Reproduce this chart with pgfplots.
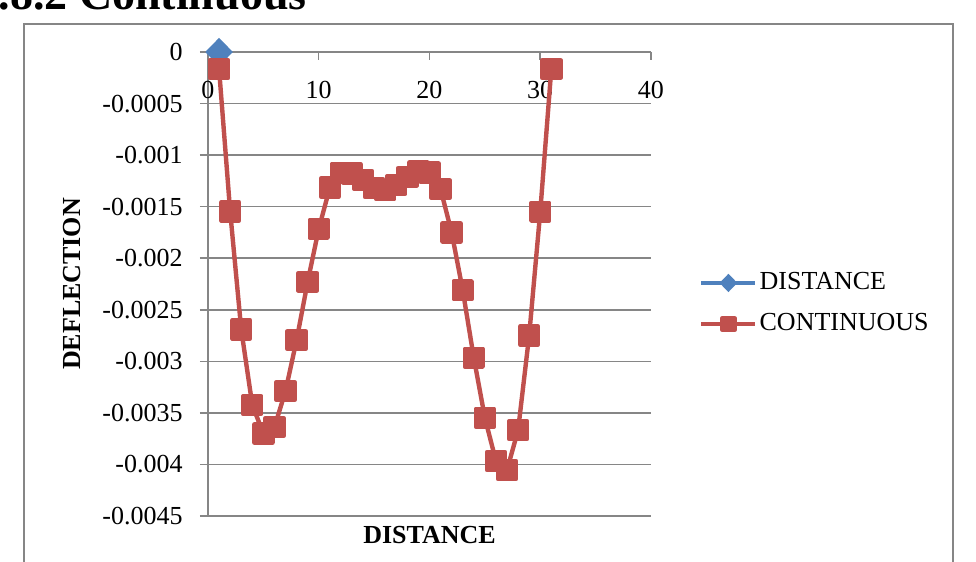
\documentclass[border=0pt]{standalone}
\usepackage{pgfplots}
\pgfplotsset{compat=1.18}
\usepackage{fontspec}
\setmainfont{Liberation Serif}
\definecolor{xlred}{HTML}{C0504D}
\definecolor{xlblue}{HTML}{4F81BD}
\definecolor{xlgray}{HTML}{868686}
\begin{document}
\fontsize{13}{15}\selectfont
\begin{tikzpicture}
\useasboundingbox (0,0) rectangle (488pt,281pt);
\clip (0,0) rectangle (488pt,281pt);
% cropped section heading above the chart
\node[anchor=base east, font=\fontsize{23}{26}\selectfont\bfseries, inner sep=0pt] at (153.5pt,276pt) {3.8.2 Continuous};
% chart area border
\draw[xlgray, line width=1pt] (12pt,269pt) rectangle (476.5pt,-10pt);
\begin{axis}[
  at={(104pt,23pt)}, anchor=south west,
  scale only axis, width=221.5pt, height=232pt,
  xmin=0, xmax=40, ymin=-0.0045, ymax=0,
  axis x line*=top, axis y line*=left,
  axis line style={xlgray, line width=0.75pt, -},
  scaled y ticks=false, scaled x ticks=false,
  xtick={0,10,20,30,40}, xticklabels={0,10,20,30,40},
  ytick={-0.0045,-0.004,-0.0035,-0.003,-0.0025,-0.002,-0.0015,-0.001,-0.0005,0},
  yticklabels={-0.0045,-0.004,-0.0035,-0.003,-0.0025,-0.002,-0.0015,-0.001,-0.0005,0},
  xtick align=inside, ytick align=outside, major tick length=4pt,
  tick style={xlgray, line width=0.75pt},
  ymajorgrids, grid style={xlgray, line width=0.75pt},
  xticklabel style={anchor=center, yshift=-19pt, inner sep=0pt},
  yticklabel style={anchor=east, xshift=-8.5pt, inner sep=0pt},
  xlabel={DISTANCE}, ylabel={DEFLECTION},
  xlabel style={at={(axis description cs:0.5,-0.041)}, anchor=center, font=\bfseries},
  ylabel style={at={(axis description cs:-0.307,0.5)}, anchor=center, font=\bfseries},
  legend style={at={(1.108,0.458)}, anchor=west, draw=none, fill=none, inner sep=0pt,
    row sep=8pt, cells={anchor=west}, nodes={inner sep=1pt}},
  legend image code/.code={\draw[mark repeat=2,mark phase=2,mark size=3pt] plot coordinates {(0pt,0pt)(13.5pt,0pt)(27pt,0pt)};},
  clip=false,
]
\addplot[xlblue, line width=2.2pt, mark=diamond*, mark size=5.5pt, mark options={xscale=1.3}] coordinates {(1,0)};
\addplot[xlred, line width=2.2pt, line join=round, mark=square*, mark size=4.5pt] coordinates {
(1,-0.000165)(2,-0.001545)(3,-0.00269)(4,-0.003424)(5,-0.0037)(6,-0.003637)
(7,-0.003288)(8,-0.002794)(9,-0.002229)(10,-0.001715)(11,-0.001315)(12,-0.001172)
(13,-0.00118)(14,-0.00124)(15,-0.00132)(16,-0.00134)(17,-0.00129)(18,-0.00121)
(19,-0.00116)(20,-0.00117)(21,-0.00133)(22,-0.00175)(23,-0.00231)(24,-0.002965)
(25,-0.003547)(26,-0.003967)(27,-0.004054)(28,-0.003667)(29,-0.002749)(30,-0.00155)
(31,-0.000165)};
\legend{DISTANCE,CONTINUOUS}
\end{axis}
\end{tikzpicture}
\end{document}
